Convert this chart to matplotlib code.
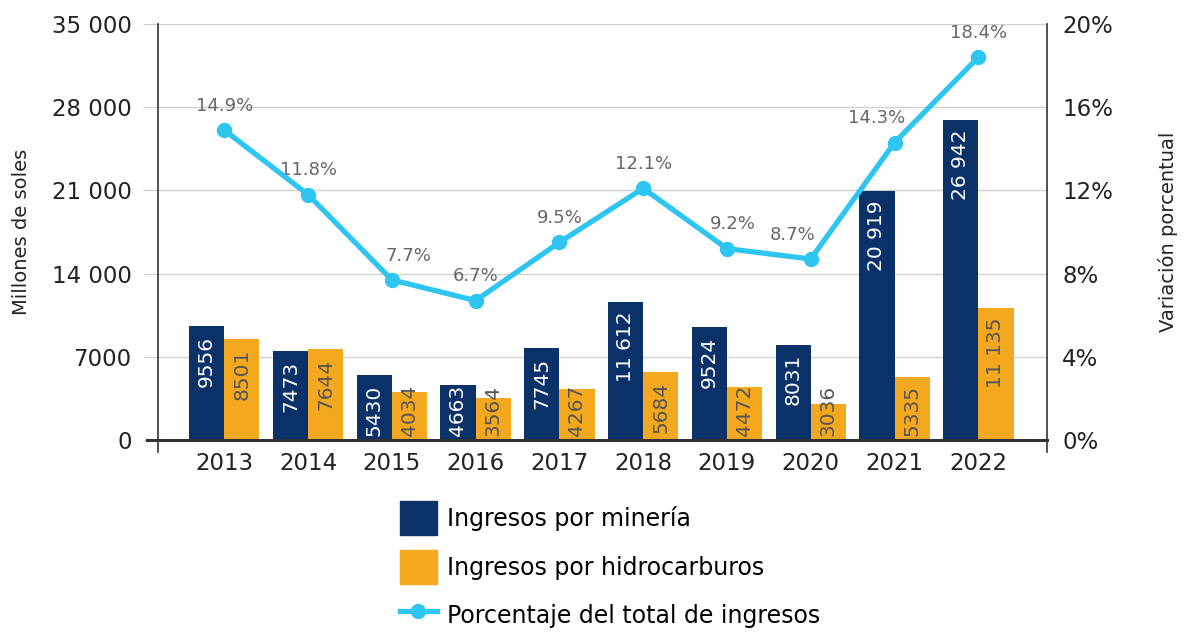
import numpy as np
import matplotlib
matplotlib.use('Agg')
import matplotlib.pyplot as plt
from matplotlib.patches import Patch
from matplotlib.lines import Line2D

plt.rcParams['font.family'] = ['DejaVu Sans']

anios = ['2013', '2014', '2015', '2016', '2017', '2018', '2019', '2020', '2021', '2022']
mineria = [9556, 7473, 5430, 4663, 7745, 11612, 9524, 8031, 20919, 26942]
hidrocarburos = [8501, 7644, 4034, 3564, 4267, 5684, 4472, 3036, 5335, 11135]
porcentaje = [14.9, 11.8, 7.7, 6.7, 9.5, 12.1, 9.2, 8.7, 14.3, 18.4]
pct_dx = [0, 0, 12, 0, 0, 0, 4, -13, -13, 0]

azul = '#0b3169'
naranja = '#f4a81d'
celeste = '#2ec5f1'
texto = '#222222'


def fmt(v):
    s = f'{v:,}'.replace(',', ' ')
    if v < 10000:
        s = str(v)
    return s


fig = plt.figure(figsize=(11.89, 6.33), dpi=100)
ax = fig.add_axes([0.1329, 0.3049, 0.8806 - 0.1329, 0.9621 - 0.3049])
x = np.arange(len(anios))
w = 0.42

b1 = ax.bar(x - w / 2, mineria, w, color=azul, zorder=2)
b2 = ax.bar(x + w / 2, hidrocarburos, w, color=naranja, zorder=2)

for rects, vals, col in [(b1, mineria, 'white'), (b2, hidrocarburos, '#555555')]:
    for r, v in zip(rects, vals):
        yy = max(v - 800, 4650)
        ax.text(r.get_x() + r.get_width() / 2, yy, fmt(v), rotation=90,
                ha='center', va='top', color=col, fontsize=14.5, zorder=3)

ax.set_xlim(-0.79, 9.82)
ax.set_ylim(0, 35000)
ax.set_yticks(range(0, 35001, 7000))
ax.set_yticklabels([fmt(v) for v in range(0, 35001, 7000)], fontsize=16.5, color=texto)
ax.set_xticks(x)
ax.set_xticklabels(anios, fontsize=16.5, color=texto)
ax.tick_params(axis='x', length=0, pad=9)
ax.tick_params(axis='y', length=11, color='#cccccc', pad=8)
ax.grid(axis='y', color='#d0d0d0', lw=1, zorder=0)
ax.set_axisbelow(True)
for s in ['top', 'right', 'left', 'bottom']:
    ax.spines[s].set_visible(False)
ax.set_ylabel('Millones de soles', fontsize=14, color=texto, labelpad=15)
ax.plot([-0.0124, 1], [0, 0], transform=ax.transAxes, color='#333333', lw=2.2,
        clip_on=False, zorder=5)
ax.plot([0, 0], [-0.03, 1], transform=ax.transAxes, color='#333333', lw=1.2, clip_on=False)
ax.plot([1, 1], [-0.03, 1], transform=ax.transAxes, color='#333333', lw=1.2, clip_on=False)

ax2 = ax.twinx()
ax2.set_ylim(0, 20)
ax2.set_yticks(range(0, 21, 4))
ax2.set_yticklabels([f'{v}%' for v in range(0, 21, 4)], fontsize=16.5, color=texto)
ax2.tick_params(axis='y', length=0, pad=11)
for s in ['top', 'right', 'left', 'bottom']:
    ax2.spines[s].set_visible(False)
ax2.set_ylabel('Variación porcentual', fontsize=14, color=texto, labelpad=32)
ax2.plot(x, porcentaje, color=celeste, lw=3.8, marker='o', markersize=10, zorder=4)
for xi, p, dx in zip(x, porcentaje, pct_dx):
    ax2.annotate(f'{p}%', (xi, p), xytext=(dx, 11), textcoords='offset points',
                 ha='center', va='bottom', fontsize=13, color='#666666')

handles = [Patch(color=azul), Patch(color=naranja),
           Line2D([], [], color=celeste, lw=3.8, marker='o', markersize=10)]
labels = ['Ingresos por minería', 'Ingresos por hidrocarburos', 'Porcentaje del total de ingresos']
fig.legend(handles, labels, loc='upper left', bbox_to_anchor=(0.3364, 0.2085),
           frameon=False, fontsize=17, handlelength=1.55, handleheight=1.85,
           handletextpad=0.45, labelspacing=0.62, borderpad=0, borderaxespad=0)

fig.savefig('out.png', dpi=100)
